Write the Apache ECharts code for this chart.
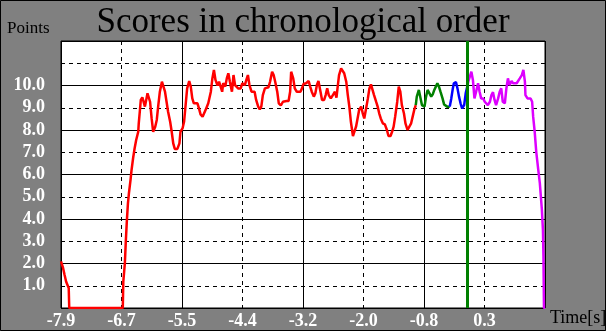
<!DOCTYPE html>
<html>
<head>
<meta charset="utf-8">
<script src="https://cdn.jsdelivr.net/npm/echarts@6/dist/echarts.min.js"></script>
<style>
html,body{margin:0;padding:0;background:#808080;}
#c{width:606px;height:331px;}
</style>
</head>
<body>
<div id="c"></div>
<script>
// ---- data (time in seconds, score points) ----
const xTickLabels = ['-7.9','-6.7','-5.5','-4.4','-3.2','-2.0','-0.8','0.3',''];
const yTickLabels = ['','1.0','2.0','3.0','4.0','5.0','6.0','7.0','8.0','9.0','10.0','',''];
const X_MIN = -7.9;
const X_STEP = 1.175;
const markerTime = 0;

const redData = [[-7.90,2.1],[-7.86,1.8],[-7.83,1.48],[-7.80,1.18],[-7.75,0.9],[-7.74,0],[-6.70,0],[-6.69,1.18],[-6.66,2.0],[-6.64,3.06],[-6.62,3.96],[-6.60,4.7],[-6.58,5.17],[-6.55,5.75],[-6.53,6.2],[-6.50,6.73],[-6.47,7.18],[-6.44,7.55],[-6.40,7.92],[-6.39,8.3],[-6.37,8.82],[-6.35,9.35],[-6.32,9.47],[-6.29,9.5],[-6.27,9.05],[-6.24,9.05],[-6.22,9.65],[-6.20,9.57],[-6.17,9.27],[-6.14,8.53],[-6.11,7.92],[-6.07,8.15],[-6.04,8.45],[-6.01,9.12],[-5.98,9.72],[-5.94,10.17],[-5.91,10.25],[-5.88,9.72],[-5.85,9.27],[-5.82,8.82],[-5.78,8.37],[-5.75,7.92],[-5.72,7.4],[-5.69,7.15],[-5.64,7.15],[-5.60,7.4],[-5.58,7.92],[-5.54,8.07],[-5.51,8.37],[-5.48,9.12],[-5.45,9.87],[-5.41,10.2],[-5.38,9.95],[-5.35,9.42],[-5.32,9.2],[-5.25,9.2],[-5.22,8.97],[-5.19,8.7],[-5.15,8.6],[-5.12,8.67],[-5.08,8.97],[-5.04,9.2],[-4.99,9.72],[-4.96,10.32],[-4.93,10.7],[-4.90,10.25],[-4.86,10.0],[-4.83,10.17],[-4.80,9.95],[-4.77,9.72],[-4.75,10.1],[-4.71,9.95],[-4.68,10.32],[-4.65,10.55],[-4.62,10.17],[-4.58,9.72],[-4.55,10.47],[-4.52,10.02],[-4.49,9.95],[-4.46,9.87],[-4.41,9.87],[-4.38,10.1],[-4.33,10.02],[-4.30,10.25],[-4.27,10.47],[-4.24,10.02],[-4.20,9.72],[-4.14,9.72],[-4.11,9.35],[-4.07,9.05],[-4.04,8.93],[-4.01,9.05],[-3.98,9.57],[-3.94,9.87],[-3.91,9.92],[-3.87,9.92],[-3.84,10.17],[-3.80,10.62],[-3.77,10.47],[-3.74,10.17],[-3.70,9.72],[-3.67,9.2],[-3.63,9.1],[-3.59,9.27],[-3.56,9.2],[-3.52,9.3],[-3.48,9.3],[-3.45,9.72],[-3.43,10.62],[-3.39,10.32],[-3.36,9.87],[-3.32,9.72],[-3.25,9.72],[-3.22,9.87],[-3.19,10.07],[-3.14,10.1],[-3.09,10.2],[-3.06,9.95],[-3.03,9.72],[-2.99,9.5],[-2.96,9.65],[-2.93,10.02],[-2.90,10.2],[-2.86,9.72],[-2.83,9.35],[-2.79,9.35],[-2.76,9.57],[-2.73,9.87],[-2.70,9.57],[-2.66,9.42],[-2.62,9.57],[-2.58,9.72],[-2.55,9.45],[-2.53,9.87],[-2.50,10.47],[-2.46,10.77],[-2.43,10.7],[-2.40,10.55],[-2.36,10.17],[-2.33,9.57],[-2.30,9.05],[-2.27,8.37],[-2.23,7.73],[-2.20,7.73],[-2.17,8.15],[-2.14,8.52],[-2.11,8.9],[-2.07,9.05],[-2.04,8.75],[-2.01,8.52],[-1.98,8.9],[-1.94,9.42],[-1.91,9.87],[-1.88,10.05],[-1.85,10.02],[-1.82,9.57],[-1.78,9.27],[-1.75,9.05],[-1.72,8.75],[-1.69,8.52],[-1.65,8.3],[-1.61,8.25],[-1.57,8.0],[-1.54,7.73],[-1.50,7.73],[-1.47,7.92],[-1.44,8.15],[-1.41,8.6],[-1.37,9.27],[-1.34,9.95],[-1.31,9.72],[-1.28,9.12],[-1.24,8.75],[-1.21,8.3],[-1.17,8.0],[-1.14,8.05],[-1.10,8.3],[-1.07,8.6],[-1.04,8.9],[-1.01,9.12]];
const greenData = [[-1.01,9.12],[-0.99,9.5],[-0.95,9.8],[-0.92,9.8],[-0.89,9.12],[-0.84,9.05],[-0.81,9.5],[-0.78,9.8],[-0.75,9.72],[-0.71,9.5],[-0.68,9.6],[-0.65,9.8],[-0.62,9.95],[-0.59,10.1],[-0.56,9.95],[-0.53,9.72],[-0.49,9.42],[-0.46,9.15],[-0.43,9.12],[-0.40,9.05],[-0.35,9.05]];
const blueData = [[-0.35,9.05],[-0.32,9.42],[-0.29,9.87],[-0.27,10.1],[-0.23,10.15],[-0.20,9.87],[-0.17,9.5],[-0.14,9.2],[-0.11,8.97],[-0.07,9.12],[-0.04,9.65],[-0.01,9.95]];
const magentaData = [[-0.01,9.95],[0.01,10.17],[0.04,10.1],[0.07,10.62],[0.10,10.25],[0.13,9.42],[0.17,9.8],[0.20,10.1],[0.23,9.72],[0.26,9.42],[0.30,9.42],[0.33,9.27],[0.36,9.35],[0.39,9.12],[0.43,9.27],[0.46,9.57],[0.49,9.7],[0.52,9.35],[0.55,9.12],[0.59,9.42],[0.62,9.72],[0.65,9.87],[0.68,9.27],[0.72,9.2],[0.75,9.87],[0.78,10.32],[0.81,10.02],[0.85,10.2],[0.88,10.1],[0.91,10.1],[0.95,10.1],[0.98,10.02],[1.01,10.32],[1.05,10.47],[1.08,10.7],[1.11,10.17],[1.12,9.57],[1.16,9.42],[1.22,9.42],[1.25,9.27],[1.27,8.6],[1.30,7.92],[1.33,7.02],[1.37,6.2],[1.40,5.6],[1.44,4.4],[1.46,3.5],[1.47,2.3],[1.48,0],[1.50,0]];

// ---- chart ----
const toAxis = d => d.map(p => [(p[0] - X_MIN) / X_STEP, p[1]]);
const SERIF = '"Liberation Serif","Times New Roman",serif';

const chart = echarts.init(document.getElementById('c'), null, {renderer: 'canvas'});
const lineSeries = (name, data, color) => ({
  name, type: 'line', data: toAxis(data), xAxisIndex: 0, yAxisIndex: 0,
  showSymbol: false, symbol: 'none', animation: false, z: 3,
  lineStyle: {color, width: 2.5}
});

chart.setOption({
  backgroundColor: '#808080',
  animation: false,
  title: {
    text: 'Scores in chronological order', left: 'center', top: 0,
    textStyle: {fontFamily: SERIF, fontSize: 35, fontWeight: 'normal', color: '#000'}
  },
  grid: {
    left: 61, top: 41, width: 484, height: 267,
    show: true, backgroundColor: '#fff', borderColor: '#000', borderWidth: 1,
    containLabel: false, outerBoundsMode: 'none'
  },
  xAxis: [
    {type: 'value', min: 0, max: 8, interval: 1,
     axisLine: {show: false}, axisTick: {show: false},
     splitLine: {show: true, lineStyle: {color: '#000', type: [4, 4], width: 1}},
     axisLabel: {color: '#fff', fontFamily: SERIF, fontSize: 18, fontWeight: 'bold', margin: 4,
       formatter: v => xTickLabels[Math.round(v)] ?? ''}},
    {type: 'value', min: 0, max: 8, interval: 2,
     axisLine: {show: false}, axisTick: {show: false}, axisLabel: {show: false},
     splitLine: {show: true, lineStyle: {color: '#000', type: 'solid', width: 1}}}
  ],
  yAxis: [
    {type: 'value', min: 0, max: 12, interval: 1,
     axisLine: {show: false}, axisTick: {show: false},
     splitLine: {show: true, lineStyle: {color: '#000', type: [4, 4], width: 1}},
     axisLabel: {color: '#fff', fontFamily: SERIF, fontSize: 18, fontWeight: 'bold', margin: 16,
       formatter: v => yTickLabels[Math.round(v)] ?? ''}},
    {type: 'value', min: 0, max: 12, interval: 2,
     axisLine: {show: false}, axisTick: {show: false}, axisLabel: {show: false},
     splitLine: {show: true, lineStyle: {color: '#000', type: 'solid', width: 1}}}
  ],
  graphic: [
    {type: 'text', left: 7, top: 20, style: {text: 'Points', font: '17px ' + SERIF, fill: '#000'}},
    {type: 'text', left: 550, top: 309, style: {text: 'Time[s]', font: '18px ' + SERIF, fill: '#000'}},
    {type: 'rect', shape: {x: 0.5, y: 0.5, width: 605, height: 330}, style: {fill: null, stroke: '#000', lineWidth: 1}, z: 100}
  ],
  series: [
    lineSeries('red', redData, '#ff0000'),
    lineSeries('green', greenData, '#008000'),
    lineSeries('blue', blueData, '#0000ff'),
    Object.assign(lineSeries('magenta', magentaData, '#dd00ff'), {
      markLine: {
        silent: true, symbol: 'none', animation: false, label: {show: false},
        lineStyle: {color: '#008000', width: 3, type: 'solid'},
        data: [{xAxis: (markerTime - X_MIN) / X_STEP}]
      }
    })
  ]
});
</script>
</body>
</html>
